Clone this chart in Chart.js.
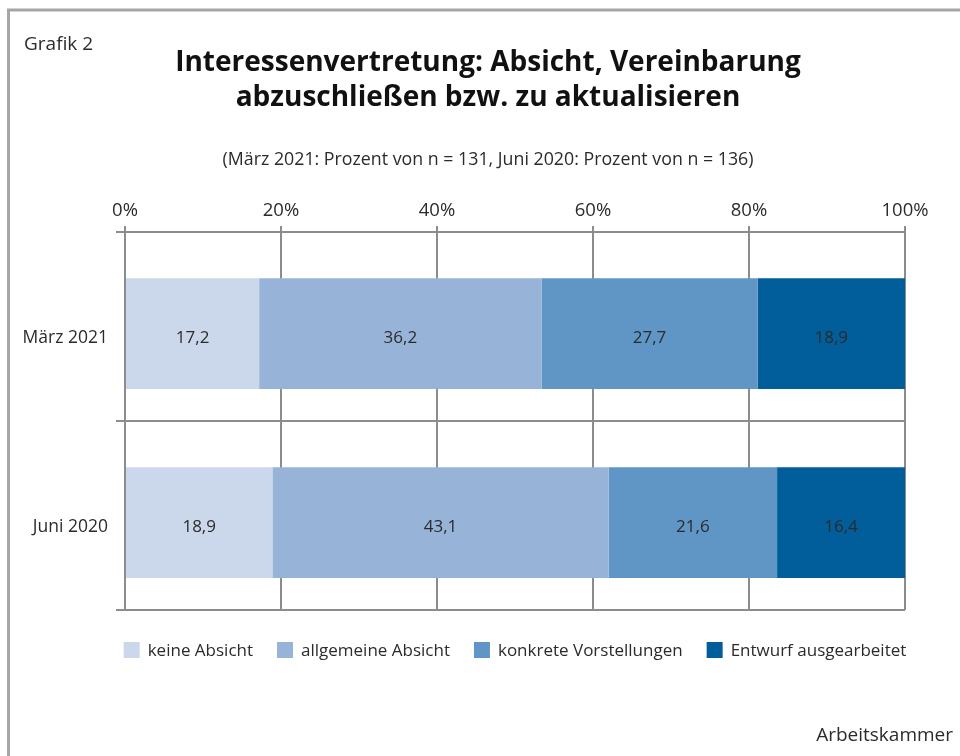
<!DOCTYPE html>
<html>
<head>
<meta charset="utf-8">
<script src="https://cdn.jsdelivr.net/npm/chart.js@4"></script>
<style>
  html, body { margin: 0; padding: 0; background: #fff; }
  #wrap { position: relative; width: 960px; height: 756px; }
</style>
</head>
<body>
<div id="wrap"><canvas id="chart" width="960" height="756"></canvas></div>
<script>
// --- Data ---
const categories = ['März 2021', 'Juni 2020'];
const seriesNames = ['keine Absicht', 'allgemeine Absicht', 'konkrete Vorstellungen', 'Entwurf ausgearbeitet'];
const keineAbsicht = [17.2, 18.9];
const allgemeineAbsicht = [36.2, 43.1];
const konkreteVorstellungen = [27.7, 21.6];
const entwurfAusgearbeitet = [18.9, 16.4];
const tickValues = [0, 20, 40, 60, 80, 100];

const seriesColors = ['#cbd7ea', '#97b4d8', '#6096c5', '#015e9b'];
const FONT = '"Open Sans", "Noto Sans", sans-serif';
const TEXT = '#2b2b2b';
const GRID = '#8c8c8c';

// Frame, "Grafik 2", title, subtitle and source note
const decorPlugin = {
    id: 'decor',
    beforeDraw(chart) {
        const ctx = chart.ctx;
        ctx.save();
        ctx.fillStyle = '#fff';
        ctx.fillRect(0, 0, chart.width, chart.height);
        ctx.strokeStyle = '#a6a6a6';
        ctx.lineWidth = 3;
        ctx.beginPath();
        ctx.moveTo(8.5, chart.height);
        ctx.lineTo(8.5, 10);
        ctx.lineTo(chart.width, 10);
        ctx.stroke();
        ctx.restore();
    },
    afterDraw(chart) {
        const ctx = chart.ctx;
        ctx.save();
        ctx.fillStyle = TEXT;
        ctx.textBaseline = 'middle';
        ctx.font = '19px ' + FONT;
        ctx.textAlign = 'left';
        ctx.fillText('Grafik 2', 24, 45);
        ctx.textAlign = 'right';
        ctx.fillText('Arbeitskammer', 953, 736);

        ctx.fillStyle = '#111';
        ctx.textAlign = 'center';
        ctx.font = 'bold 28px ' + FONT;
        ctx.fillText('Interessenvertretung: Absicht, Vereinbarung', 488, 63);
        ctx.fillText('abzuschließen bzw. zu aktualisieren', 488, 98);

        ctx.fillStyle = TEXT;
        ctx.font = '17.8px ' + FONT;
        ctx.fillText('(März 2021: Prozent von n = 131, Juni 2020: Prozent von n = 136)', 488, 160);
        ctx.restore();
    }
};

// Legend row under the plot, centred on the plot area
const legendRow = {
    id: 'legendRow',
    afterDraw(chart) {
        const ctx = chart.ctx;
        const area = chart.chartArea;
        const box = 16, gap = 8, spacing = 24;
        const items = chart.data.datasets.filter(ds => seriesNames.includes(ds.label));
        ctx.save();
        ctx.font = '17px ' + FONT;
        ctx.textBaseline = 'middle';
        ctx.textAlign = 'left';
        const widths = items.map(ds => ctx.measureText(ds.label).width);
        const total = widths.reduce((s, w) => s + box + gap + w, 0) + spacing * (widths.length - 1);
        let x = (area.left + area.right) / 2 - total / 2;
        const y = area.bottom + 40;
        items.forEach((ds, i) => {
            ctx.fillStyle = ds.backgroundColor;
            ctx.fillRect(x, y - box / 2, box, box);
            ctx.fillStyle = TEXT;
            ctx.fillText(ds.label, x + box + gap, y + 1);
            x += box + gap + widths[i] + spacing;
        });
        ctx.restore();
    }
};

// Values written in the middle of each bar segment
const segmentLabels = {
    id: 'segmentLabels',
    afterDatasetsDraw(chart) {
        const ctx = chart.ctx;
        ctx.save();
        ctx.font = '17px ' + FONT;
        ctx.fillStyle = TEXT;
        ctx.textAlign = 'center';
        ctx.textBaseline = 'middle';
        chart.data.datasets.forEach((ds, i) => {
            chart.getDatasetMeta(i).data.forEach((bar, j) => {
                const p = bar.getProps(['x', 'y', 'base'], true);
                const text = ds.data[j].toFixed(1).replace('.', ',');
                ctx.fillText(text, (p.x + p.base) / 2, p.y + 5);
            });
        });
        ctx.restore();
    }
};

const allSeries = [keineAbsicht, allgemeineAbsicht, konkreteVorstellungen, entwurfAusgearbeitet];

// In the original the bars sit a little below the middle of their band.
// An empty "spacer" stack takes the first slot of each band, so the real
// stack lands in the second one: a narrow slot, widened by barPercentage.
const CAT_PCT = 0.149;
const BAR_PCT = 7.86;

const datasets = allSeries.map((values, i) => ({
    label: seriesNames[i],
    data: values,
    stack: 'answers',
    backgroundColor: seriesColors[i],
    borderWidth: 0,
    barPercentage: BAR_PCT,
    categoryPercentage: CAT_PCT
}));
datasets.push({
    label: 'spacer',
    data: [],
    stack: 'spacer',
    order: -1,
    barPercentage: BAR_PCT,
    categoryPercentage: CAT_PCT
});

new Chart(document.getElementById('chart'), {
    type: 'bar',
    data: { labels: categories, datasets: datasets },
    options: {
        indexAxis: 'y',
        responsive: false,
        animation: false,
        layout: { padding: { top: 180, right: 55, bottom: 146, left: 0 } },
        plugins: {
            legend: { display: false },
            tooltip: { enabled: false }
        },
        scales: {
            x: {
                position: 'top',
                stacked: true,
                min: 0,
                max: 100,
                afterBuildTicks: scale => { scale.ticks = tickValues.map(v => ({ value: v })); },
                afterFit: scale => { scale.height = 52; },
                ticks: {
                    callback: v => v + '%',
                    color: TEXT,
                    padding: 4,
                    font: { family: FONT, size: 18.5 }
                },
                grid: { color: GRID, lineWidth: 2, tickLength: 6, drawTicks: true },
                border: { color: GRID, width: 2 }
            },
            y: {
                stacked: true,
                afterFit: scale => { scale.width = 125; },
                ticks: {
                    color: TEXT,
                    padding: 8,
                    labelOffset: 12,
                    font: { family: FONT, size: 17.5 }
                },
                grid: { color: GRID, lineWidth: 2, tickLength: 9, offset: true },
                border: { color: GRID, width: 2 }
            }
        }
    },
    plugins: [decorPlugin, segmentLabels, legendRow]
});
</script>
</body>
</html>
